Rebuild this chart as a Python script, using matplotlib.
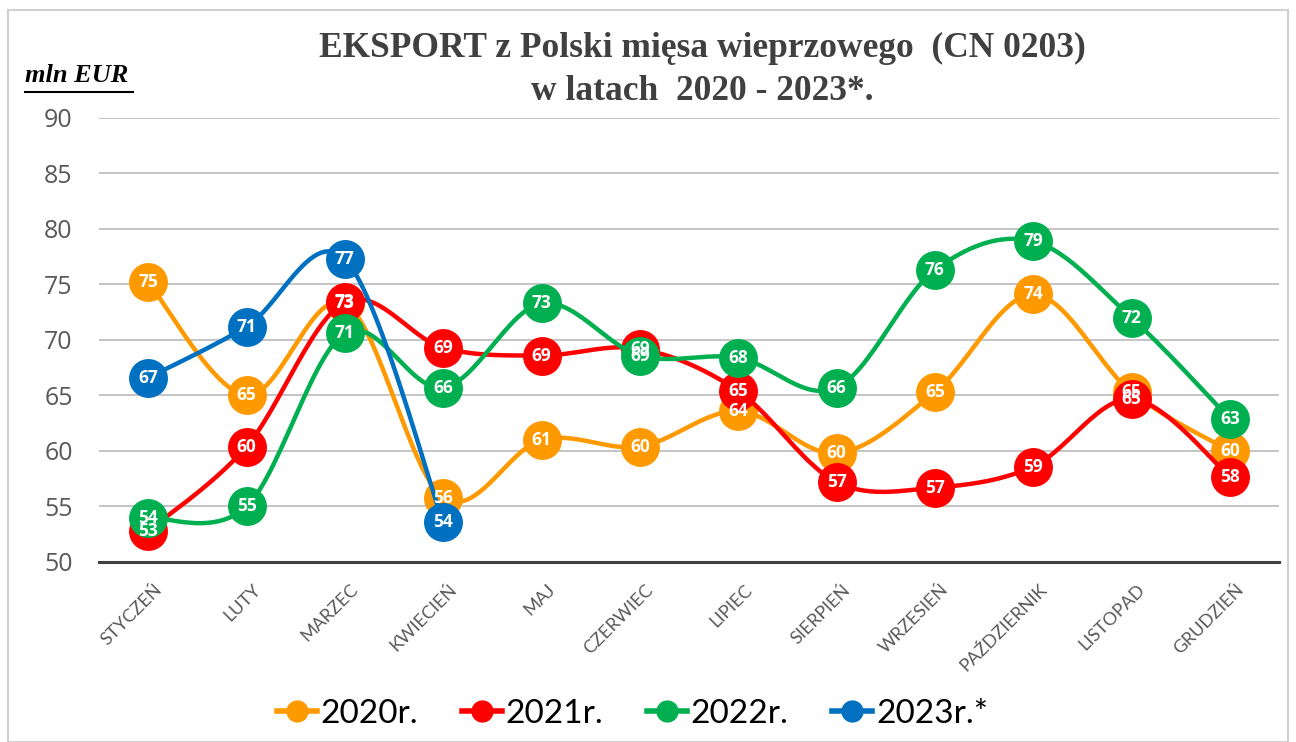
import numpy as np
import matplotlib
matplotlib.use("Agg")
import matplotlib.pyplot as plt
from matplotlib.lines import Line2D
from matplotlib.patches import Rectangle
from matplotlib.transforms import ScaledTranslation

months = ['STYCZEŃ', 'LUTY', 'MARZEC', 'KWIECIEŃ', 'MAJ', 'CZERWIEC', 'LIPIEC',
          'SIERPIEŃ', 'WRZESIEŃ', 'PAŹDZIERNIK', 'LISTOPAD', 'GRUDZIEŃ']

y2020 = [75.2, 65.0, 73.3, 55.8, 61.0, 60.4, 63.6, 59.8, 65.3, 74.1, 65.3, 60.0]
y2021 = [52.8, 60.4, 73.4, 69.3, 68.6, 69.2, 65.4, 57.2, 56.7, 58.6, 64.7, 57.7]
y2022 = [54.0, 55.0, 70.6, 65.7, 73.3, 68.6, 68.4, 65.7, 76.3, 78.9, 72.0, 62.9]
y2023 = [66.6, 71.2, 77.3, 53.6]

series = [('2020r.', y2020, '#FF9900'),
          ('2021r.', y2021, '#FF0000'),
          ('2022r.', y2022, '#00B050'),
          ('2023r.*', y2023, '#0070C0')]


def smooth(xs, ys, n=30):
    # Catmull-Rom style bezier, like Excel's smoothed line
    xs = np.asarray(xs, float)
    ys = np.asarray(ys, float)
    px, py = [], []
    for i in range(len(xs) - 1):
        i0 = max(i - 1, 0)
        i3 = min(i + 2, len(xs) - 1)
        p0 = np.array([xs[i], ys[i]])
        p3 = np.array([xs[i + 1], ys[i + 1]])
        c1 = p0 + (p3 - np.array([xs[i0], ys[i0]])) / 6.0
        c2 = p3 - (np.array([xs[i3], ys[i3]]) - p0) / 6.0
        t = np.linspace(0, 1, n)[:, None]
        b = ((1 - t) ** 3) * p0 + 3 * ((1 - t) ** 2) * t * c1 + 3 * (1 - t) * t ** 2 * c2 + t ** 3 * p3
        px.extend(b[:, 0])
        py.extend(b[:, 1])
    return px, py


fig = plt.figure(figsize=(12.96, 7.42), dpi=100)
ax = fig.add_axes([0.0764, 0.2426, 0.9105, 0.5984])

for k, (name, vals, col) in enumerate(series):
    x = np.arange(len(vals))
    sx, sy = smooth(x, vals)
    ax.plot(sx, sy, color=col, lw=3.2, zorder=3 + k, solid_capstyle='round')
    ax.plot(x, vals, 'o', color=col, ms=27, mec=col, zorder=3 + k)

for k, (name, vals, col) in enumerate(series):
    for i, v in enumerate(vals):
        ax.text(i, v, f'{v:.0f}', color='white', ha='center', va='center',
                fontsize=12.5, fontweight='bold', family='Open Sans', zorder=20)

ax.set_xlim(-0.5, 11.5)
ax.set_ylim(50, 90)
ax.set_yticks(range(50, 91, 5))
ax.set_xticks(range(12))
ax.set_xticklabels(months, rotation=45, ha='right', rotation_mode='anchor',
                   fontsize=13, color='#595959', family='Lato')
ax.tick_params(axis='x', length=0, pad=14)
ax.tick_params(axis='y', length=0, labelsize=18, labelcolor='#595959', pad=19)
for lab in ax.get_yticklabels():
    lab.set_family('Open Sans')
for lab in ax.get_xticklabels():
    lab.set_transform(lab.get_transform() + ScaledTranslation(4 / 72, 0, fig.dpi_scale_trans))
ax.grid(axis='y', color='#BFBFBF', lw=1.3)
ax.set_axisbelow(True)
for s in ['top', 'right', 'left']:
    ax.spines[s].set_visible(False)
ax.spines['bottom'].set_color('#404040')
ax.spines['bottom'].set_linewidth(2.2)
ax.spines['bottom'].set_zorder(2)

fig.text(0.542, 0.935, 'EKSPORT z Polski mięsa wieprzowego  (CN 0203)',
         ha='center', va='center', fontsize=25.5, fontweight='bold',
         family='Liberation Serif', color='#404040')
fig.text(0.542, 0.877, 'w latach  2020 - 2023*.',
         ha='center', va='center', fontsize=25.5, fontweight='bold',
         family='Liberation Serif', color='#404040')

fig.text(0.019, 0.898, 'mln EUR', ha='left', va='center', fontsize=19,
         fontweight='bold', style='italic', family='Liberation Serif', color='black')
fig.add_artist(Line2D([0.019, 0.103], [0.876, 0.876], color='black', lw=1.5))

fig.add_artist(Rectangle((0.006, 0.0), 0.988, 0.987, fill=False,
                         edgecolor='#D0D0D0', lw=1.5, transform=fig.transFigure))

handles = [Line2D([0], [0], color=col, lw=4, marker='o', ms=15, mec=col)
           for name, vals, col in series]
fig.legend(handles, [s[0] for s in series], loc='center', bbox_to_anchor=(0.488, 0.038),
           ncol=4, frameon=False, handlelength=1.2, handletextpad=0.12,
           columnspacing=1.3, prop={'family': 'Lato', 'size': 24})

fig.savefig('out.png', dpi=100)
